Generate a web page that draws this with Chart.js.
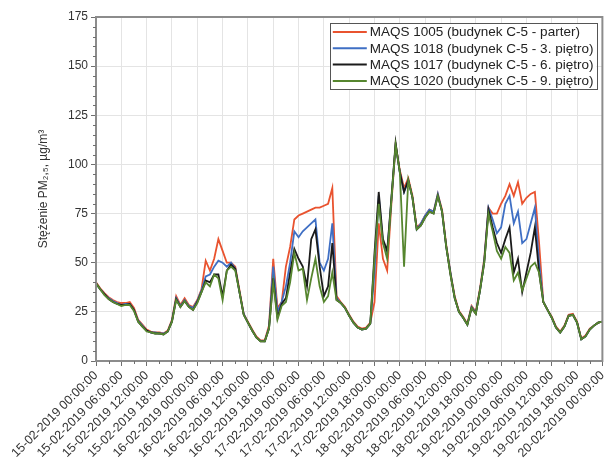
<!DOCTYPE html>
<html>
<head>
<meta charset="utf-8">
<script src="https://cdn.jsdelivr.net/npm/chart.js@4"></script>
<style>
html,body{margin:0;padding:0;background:#fff;}
#c{display:block;}
</style>
</head>
<body>
<canvas id="c" width="615" height="475"></canvas>
<script>
const seriesLabels = [
  'MAQS 1005 (budynek C-5 - parter)',
  'MAQS 1018 (budynek C-5 - 3. piętro)',
  'MAQS 1017 (budynek C-5 - 6. piętro)',
  'MAQS 1020 (budynek C-5 - 9. piętro)'
];
const seriesColors = ['#e9532f', '#3f6fc4', '#1b1b1b', '#56862f'];

const tickLabels = [
  '15-02-2019 00:00:00','15-02-2019 06:00:00','15-02-2019 12:00:00','15-02-2019 18:00:00',
  '16-02-2019 00:00:00','16-02-2019 06:00:00','16-02-2019 12:00:00','16-02-2019 18:00:00',
  '17-02-2019 00:00:00','17-02-2019 06:00:00','17-02-2019 12:00:00','17-02-2019 18:00:00',
  '18-02-2019 00:00:00','18-02-2019 06:00:00','18-02-2019 12:00:00','18-02-2019 18:00:00',
  '19-02-2019 00:00:00','19-02-2019 06:00:00','19-02-2019 12:00:00','19-02-2019 18:00:00',
  '20-02-2019 00:00:00'
];

// hourly values, 15-02-2019 00:00 ... 20-02-2019 00:00
const maqs1005 = [
  40,37,34.5,32.5,31,30,29.5,29.5,30,27,
  21,18.5,16,15,14.5,14.5,14,15.5,21,33,
  28.5,32,28.5,27.5,31,36.5,51,46,52,62,
  56,50,50,48,36,24,20,16,12.5,10.5,
  10.5,18,52,27,30,48,58,72,74,75,
  76,77,78,78,79,80,88,33,30,27.5,
  23.5,20,17.5,16.5,17,19.5,30,70,52,46,
  80,110,97,88,93,84,68,70,74,77,
  76,85,77,59,45,33,25.5,22.5,19,28,
  25,37,52,78,75,75,80,84,90,84,
  91,80,83,85,86,60,30,26,22.5,17.5,
  15,18,23.5,24,20,11.5,13,16.5,18,19.5,20
];
const maqs1018 = [
  39.5,36.5,34,32,30.5,29.5,28.5,29,29,26,
  20.5,18,15.5,14.5,14.5,14,14,15,20.5,32,
  28,31,28,27,30.5,36,43,44,48,51,
  50,48,50,47,35,24,19.5,15.5,12,10.2,
  10,17,48,25,30,38,50,66,63,66,
  68,70,72,50,46,52,70,32,29.5,27,
  23,19.5,17,16,16.5,19,45,84,60,55,
  82,110,96,86,92,83,67,70,74,77,
  76,85,76,58,45,32,25,22,18.5,27.5,
  24.5,36,51,78,72,65,68,80,84,70,
  76,60,62,70,78,50,30,26,22,17,
  14.5,17.5,23,23.5,19.5,11,12.5,16,18,19.5,20
];
const maqs1017 = [
  39.5,36.5,34,31.5,30,29,28.5,28.5,29,26,
  20,17.5,15.5,14.5,14,14,13.5,15,20,31.5,
  27.5,30.5,27.5,26,30,35,41,40,44,44,
  33,46,49,47,35,23.5,19.5,15.5,12,10,
  10,16.5,42,22,29,32,45,57,52,48,
  38,62,67,48,33,38,60,31,29.5,27,
  23,19.5,17,16,16.5,19,55,86,62,56,
  83,111,96,86,92,83,67,69,73,76,
  75,84,76,58,44,32,25,22,18.5,27,
  24,36,50,77,68,60,55,62,68,45,
  52,35,45,55,68,45,30,26,22,17,
  14.5,17.5,23,23.5,19.5,11,12.5,16,18,19.5,20
];
const maqs1020 = [
  39.5,36.5,33.5,31.5,30,29,28,28.5,28.5,25.5,
  20,17.5,15,14.5,14,14,13.5,15,20,31,
  27.5,30.5,27.5,26,29.5,35,40,38,44,42,
  31,46,48,46,35,23.5,19.5,15.5,12,10,
  10,16.5,40,21,28,30,40,55,46,47,
  31,42,52,38,30,33,45,31,29.5,27,
  23,19.5,17,16,16.5,19,52,80,60,52,
  82,110,96,48,92,83,67,69,73,76,
  75,84,76,58,44,32,25,22,18.5,27,
  24,36,50,75,66,56,52,58,55,41,
  45,36,42,48,50,45,30,26,22,17,
  14.5,17.5,23,23.5,19.5,11,12.5,16,18,19.5,20
];

const seriesValues = [maqs1005, maqs1018, maqs1017, maqs1020];
const FONT = '"Liberation Sans", Arial, Helvetica, sans-serif';
Chart.defaults.font.family = FONT;

const toPoints = arr => arr.map((v, i) => ({ x: i, y: v }));

const decor = {
  id: 'decor',
  afterDraw(chart) {
    const { ctx, chartArea: a, scales: { x, y } } = chart;
    ctx.save();
    // frame
    ctx.strokeStyle = '#8c8c8c';
    ctx.lineWidth = 2;
    ctx.strokeRect(a.left, a.top, a.right - a.left, a.bottom - a.top);
    // minor ticks
    ctx.strokeStyle = '#6f6f6f';
    ctx.lineWidth = 1;
    ctx.beginPath();
    for (let v = 3; v < 120; v += 6) {
      const px = Math.round(x.getPixelForValue(v)) + 0.5;
      ctx.moveTo(px, a.bottom);
      ctx.lineTo(px, a.bottom + 3);
    }
    for (let v = 5; v < 175; v += 5) {
      if (v % 25 === 0) continue;
      const py = Math.round(y.getPixelForValue(v)) + 0.5;
      ctx.moveTo(a.left - 3, py);
      ctx.lineTo(a.left, py);
    }
    ctx.stroke();

    // legend box
    const ds = chart.data.datasets;
    ctx.font = '13.5px ' + FONT;
    const tw = Math.max(...ds.map(d => ctx.measureText(d.label).width));
    const lineLen = 34, gap = 3, padL = 3, padR = 3, rowH = 16.3;
    const boxW = padL + lineLen + gap + tw + padR;
    const boxH = 66;
    const right = a.right - 6, top = a.top + 6;
    const left = right - boxW;
    ctx.fillStyle = '#ffffff';
    ctx.fillRect(left, top, boxW, boxH);
    ctx.strokeStyle = '#555';
    ctx.lineWidth = 1;
    ctx.strokeRect(Math.round(left) + 0.5, Math.round(top) + 0.5, Math.round(boxW), boxH);
    ds.forEach((d, i) => {
      const cy = top + 9 + rowH * i;
      ctx.strokeStyle = d.borderColor;
      ctx.lineWidth = 2;
      ctx.beginPath();
      ctx.moveTo(left + padL, cy);
      ctx.lineTo(left + padL + lineLen, cy);
      ctx.stroke();
      ctx.fillStyle = '#222';
      ctx.textBaseline = 'middle';
      ctx.textAlign = 'left';
      ctx.fillText(d.label, left + padL + lineLen + gap, cy + 0.5);
    });
    ctx.restore();
  }
};

new Chart(document.getElementById('c'), {
  type: 'line',
  data: {
    datasets: seriesValues.map((vals, i) => ({
      label: seriesLabels[i],
      data: toPoints(vals),
      borderColor: seriesColors[i],
      backgroundColor: seriesColors[i],
      borderWidth: 1.8,
      pointRadius: 0,
      fill: false,
      tension: 0,
      order: 4 - i
    }))
  },
  options: {
    responsive: false,
    animation: false,
    layout: { padding: { top: 17, right: 12, left: 0, bottom: 0 } },
    plugins: { legend: { display: false }, tooltip: { enabled: false } },
    scales: {
      x: {
        type: 'linear',
        min: 0,
        max: 120,
        ticks: {
          stepSize: 6,
          autoSkip: false,
          minRotation: 45,
          maxRotation: 45,
          padding: 2,
          color: '#333',
          font: { size: 12.5 },
          callback: v => tickLabels[Math.round(v / 6)]
        },
        grid: { color: '#e4e4e4', tickColor: '#6f6f6f', tickLength: 5, lineWidth: 1 },
        border: { color: '#8c8c8c', width: 2 },
        afterFit: s => { s.height = 114; }
      },
      y: {
        min: 0,
        max: 175,
        ticks: { stepSize: 25, color: '#333', font: { size: 12 }, padding: 3 },
        grid: { color: '#e4e4e4', tickColor: '#6f6f6f', tickLength: 5, lineWidth: 1 },
        border: { color: '#8c8c8c', width: 2 },
        title: {
          display: true,
          text: 'Stężenie PM₂,₅, µg/m³',
          color: '#333',
          font: { size: 12 },
          padding: { top: 36, bottom: 0 }
        },
        afterFit: s => { s.width = 96; }
      }
    }
  },
  plugins: [decor]
});
</script>
</body>
</html>
